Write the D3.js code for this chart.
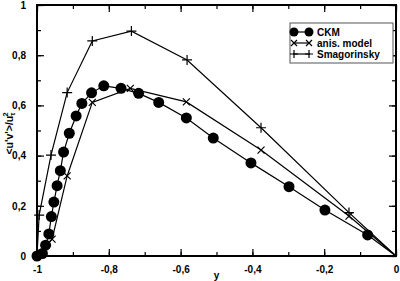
<!DOCTYPE html>
<html>
<head>
<meta charset="utf-8">
<script src="https://cdn.jsdelivr.net/npm/d3@7"></script>
<style>
  body { margin: 0; background: #fff; }
  svg text { font-family: "Liberation Sans", Arial, sans-serif; font-weight: bold; }
</style>
</head>
<body>
<svg id="chart"></svg>
<script>
// CKM (circles)
const ckmX = [-1.0, -0.985, -0.976, -0.967, -0.960, -0.953, -0.944, -0.935, -0.926, -0.910, -0.891, -0.875, -0.848,
  -0.814, -0.766, -0.717, -0.661, -0.584, -0.509, -0.404, -0.298, -0.198, -0.079, 0];
const ckmY = [0.0, 0.01, 0.043, 0.088, 0.157, 0.215, 0.280, 0.340, 0.414, 0.489, 0.558, 0.608, 0.650,
  0.678, 0.668, 0.648, 0.612, 0.550, 0.470, 0.371, 0.276, 0.183, 0.084, 0];
// anis. model (crosses)
const anisX = [-1.0, -0.958, -0.916, -0.846, -0.740, -0.584, -0.376, -0.131, 0];
const anisY = [0.0, 0.067, 0.319, 0.612, 0.668, 0.614, 0.422, 0.159, 0];
// Smagorinsky (plus)
const smagX = [-1.0, -0.994, -0.961, -0.916, -0.846, -0.737, -0.582, -0.376, -0.131, 0];
const smagY = [0.0, 0.163, 0.402, 0.651, 0.857, 0.896, 0.781, 0.511, 0.173, 0];

const xTicks = [-1, -0.8, -0.6, -0.4, -0.2, 0];
const xTickLabels = ["-1", "-0,8", "-0,6", "-0,4", "-0,2", "0"];
const yTicks = [0, 0.2, 0.4, 0.6, 0.8, 1];
const yTickLabels = ["0", "0,2", "0,4", "0,6", "0,8", "1"];
const legendNames = ["CKM", "anis. model", "Smagorinsky"];

const width = 400, height = 281;
const margin = {left: 37, right: 4, top: 5, bottom: 25};

const svg = d3.select("#chart").attr("width", width).attr("height", height);

const x = d3.scaleLinear().domain([-1, 0]).range([margin.left, width - margin.right]);
const y = d3.scaleLinear().domain([0, 1]).range([height - margin.bottom, margin.top]);

const minorX = d3.range(-1, 0.001, 0.1);
const minorY = d3.range(0, 1.001, 0.1);

// axes, ticks inward on all sides
function addAxis(axis, transform) {
  const g = svg.append("g").attr("transform", transform).call(axis);
  g.select(".domain").remove();
  g.selectAll("line").attr("stroke", "#000").attr("stroke-width", 1.2);
  return g;
}
const fmtX = (d) => xTickLabels[xTicks.findIndex(t => Math.abs(t - d) < 1e-6)];
const fmtY = (d) => yTickLabels[yTicks.findIndex(t => Math.abs(t - d) < 1e-6)];

// minor ticks
addAxis(d3.axisBottom(x).tickValues(minorX).tickSize(-4).tickFormat(""), `translate(0,${y(0)})`);
addAxis(d3.axisTop(x).tickValues(minorX).tickSize(-4).tickFormat(""), `translate(0,${y(1)})`);
addAxis(d3.axisLeft(y).tickValues(minorY).tickSize(-4).tickFormat(""), `translate(${x(-1)},0)`);
addAxis(d3.axisRight(y).tickValues(minorY).tickSize(-4).tickFormat(""), `translate(${x(0)},0)`);

// major ticks
const xb = addAxis(d3.axisBottom(x).tickValues(xTicks).tickSize(-7).tickPadding(12).tickFormat(fmtX), `translate(0,${y(0)})`);
addAxis(d3.axisTop(x).tickValues(xTicks).tickSize(-7).tickFormat(""), `translate(0,${y(1)})`);
const yl = addAxis(d3.axisLeft(y).tickValues(yTicks).tickSize(-7).tickPadding(11).tickFormat(fmtY), `translate(${x(-1)},0)`);
addAxis(d3.axisRight(y).tickValues(yTicks).tickSize(-7).tickFormat(""), `translate(${x(0)},0)`);

xb.selectAll("text").attr("font-size", 10).attr("fill", "#000").attr("dy", "0.45em");
yl.selectAll("text").attr("font-size", 10).attr("fill", "#000");

// frame
svg.append("rect")
  .attr("x", x(-1)).attr("y", y(1))
  .attr("width", x(0) - x(-1)).attr("height", y(0) - y(1))
  .attr("fill", "none").attr("stroke", "#000").attr("stroke-width", 2);

// axis titles
svg.append("text").attr("x", (x(-1) + x(0)) / 2).attr("y", 279)
  .attr("text-anchor", "middle").attr("font-size", 10).text("y");

const yt = svg.append("text")
  .attr("transform", `translate(13,${(y(0) + y(1)) / 2 + 3}) rotate(-90)`)
  .attr("text-anchor", "middle").attr("font-size", 10.5);
yt.append("tspan").text("<u'v'>/u");
yt.append("tspan").attr("font-size", 7).attr("dy", 2).text("τ");
yt.append("tspan").attr("font-size", 7.5).attr("dx", -4).attr("dy", -7.5).text("2");

const line = d3.line().x(d => x(d[0])).y(d => y(d[1]));
const ckm = d3.zip(ckmX, ckmY);
const anis = d3.zip(anisX, anisY);
const smag = d3.zip(smagX, smagY);

[ckm, anis, smag].forEach(s => {
  svg.append("path").datum(s).attr("d", line)
    .attr("fill", "none").attr("stroke", "#000").attr("stroke-width", 1.2);
});

function drawCross(g, cx, cy, r) {
  g.append("path").attr("d", `M${cx - r},${cy - r}L${cx + r},${cy + r}M${cx - r},${cy + r}L${cx + r},${cy - r}`)
    .attr("stroke", "#000").attr("stroke-width", 1.2);
}
function drawPlus(g, cx, cy, r) {
  g.append("path").attr("d", `M${cx - r},${cy}L${cx + r},${cy}M${cx},${cy - r}L${cx},${cy + r}`)
    .attr("stroke", "#000").attr("stroke-width", 1.2);
}

const markers = svg.append("g");
anis.slice(0, -1).forEach(d => drawCross(markers, x(d[0]), y(d[1]), 3.5));
smag.slice(0, -1).forEach(d => drawPlus(markers, x(d[0]), y(d[1]), 5));
markers.selectAll("circle.ckm").data(ckm.slice(0, -1)).join("circle")
  .attr("class", "ckm")
  .attr("cx", d => x(d[0])).attr("cy", d => y(d[1])).attr("r", 5.5).attr("fill", "#000");

// legend
const lg = svg.append("g");
lg.append("rect").attr("x", 290).attr("y", 23).attr("width", 103).attr("height", 40)
  .attr("fill", "#fff").attr("stroke", "#555").attr("stroke-width", 1);
legendNames.forEach((name, i) => {
  const ly = 32 + i * 11;
  lg.append("line").attr("x1", 293).attr("x2", 310).attr("y1", ly).attr("y2", ly)
    .attr("stroke", "#000").attr("stroke-width", 1.2);
  if (i === 0) {
    lg.append("circle").attr("cx", 294).attr("cy", ly).attr("r", 4.5);
    lg.append("circle").attr("cx", 309).attr("cy", ly).attr("r", 4.5);
  } else if (i === 1) {
    drawCross(lg, 294, ly, 3);
    drawCross(lg, 309, ly, 3);
  } else {
    drawPlus(lg, 294, ly, 4);
    drawPlus(lg, 309, ly, 4);
  }
  lg.append("text").attr("x", 317).attr("y", ly + 3.5).attr("font-size", 10).text(name);
});
</script>
</body>
</html>
